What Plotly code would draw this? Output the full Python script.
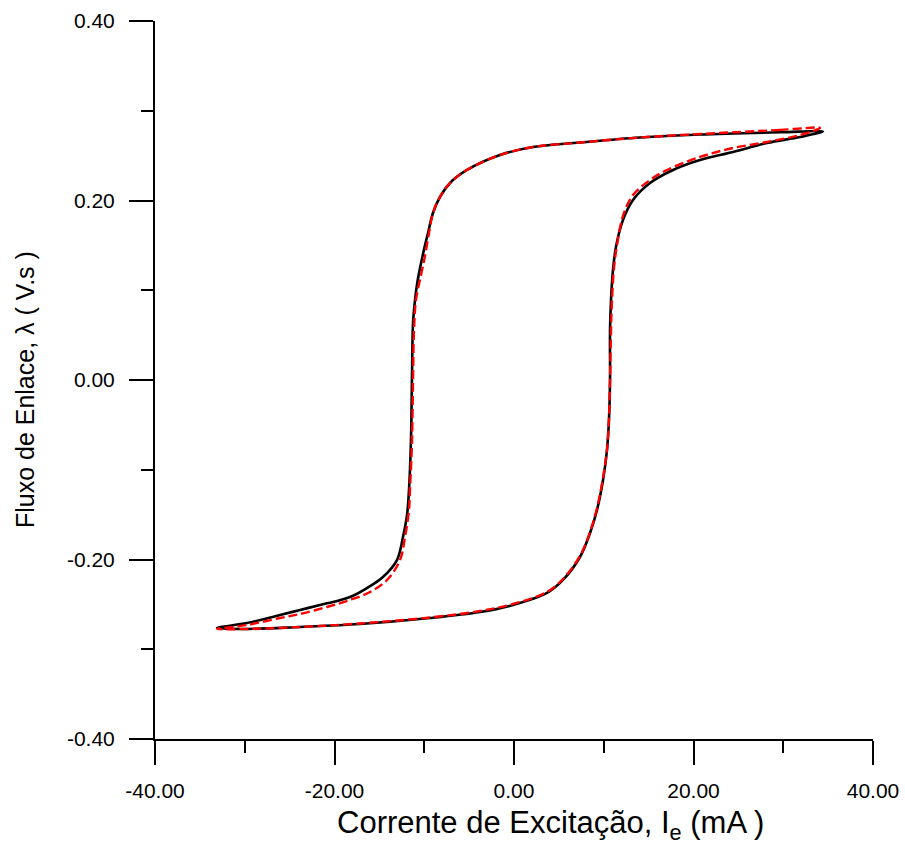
import plotly.graph_objects as go

# Measured hysteresis loop: excitation current (mA) vs flux linkage (V.s)
measured_i = [34.43, 29.64, 20.72, 14.04, 7.35, 2.12, -1.56, -5.24, -7.13, -8.25, -9.03,
              -9.58, -9.92, -10.36, -10.75, -11.03, -11.25, -11.36, -11.48, -11.70, -11.92,
              -12.37, -13.04, -14.60, -16.38, -18.27, -19.72, -21.62, -23.84, -26.07, -29.75,
              -33.09,
              -29.75, -23.84, -17.16, -9.36, -3.79, -0.11, 3.68, 5.46, 7.35, 8.47, 9.25, 9.92,
              10.36, 10.58, 10.70, 10.70, 10.81, 11.03, 11.36, 12.14, 13.26, 15.15, 17.72,
              20.72, 24.40, 28.19, 31.87, 34.43]
measured_flux = [0.2770, 0.2760, 0.2735, 0.2702, 0.2646, 0.2596, 0.2507, 0.2340, 0.2195,
                 0.2039, 0.1861, 0.1638, 0.1500, 0.1300, 0.1100, 0.0891, 0.0635, 0.0078,
                 -0.0669, -0.1226, -0.1504, -0.1749, -0.2006, -0.2195, -0.2318, -0.2418,
                 -0.2462, -0.2507, -0.2563, -0.2618, -0.2708, -0.2763,
                 -0.2774, -0.2752, -0.2719, -0.2652, -0.2585, -0.2507, -0.2373, -0.2228,
                 -0.1972, -0.1705, -0.1448, -0.1114, -0.0780, -0.0446, 0.0000, 0.0557,
                 0.0891, 0.1226, 0.1482, 0.1783, 0.2006, 0.2195, 0.2340, 0.2451, 0.2540,
                 0.2641, 0.2708, 0.2770]

# Simulated (model) hysteresis loop
model_i = [34.09, 29.64, 20.72, 14.04, 7.35, 2.12, -1.56, -5.24, -7.13, -8.25, -9.03,
           -9.47, -9.92, -10.36, -10.92, -11.14, -11.25, -11.36, -11.59, -11.70, -12.14,
           -12.70, -14.15, -16.04, -18.27, -20.84, -23.84, -26.07, -29.75, -33.09,
           -29.75, -23.84, -17.16, -9.36, -3.79, -0.11, 3.68, 5.46, 7.35, 8.47, 9.25, 9.92,
           10.36, 10.58, 10.70, 10.81, 10.92, 11.14, 11.48, 12.14, 13.26, 15.15, 17.05,
           20.72, 24.40, 28.19, 31.87, 34.09]
model_flux = [0.2808, 0.2786, 0.2741, 0.2702, 0.2646, 0.2596, 0.2507, 0.2340, 0.2195,
              0.2039, 0.1861, 0.1638, 0.1382, 0.1170, 0.0891, 0.0557, 0.0000, -0.0669,
              -0.1226, -0.1448, -0.1749, -0.2006, -0.2228, -0.2362, -0.2451, -0.2529,
              -0.2607, -0.2652, -0.2730, -0.2774,
              -0.2774, -0.2752, -0.2713, -0.2646, -0.2574, -0.2496, -0.2362, -0.2217,
              -0.1961, -0.1694, -0.1426, -0.1092, -0.0780, -0.0446, 0.0000, 0.0557,
              0.0891, 0.1248, 0.1504, 0.1827, 0.2061, 0.2228, 0.2340, 0.2485, 0.2585,
              0.2652, 0.2730, 0.2808]

x_tick_vals = [-40, -20, 0, 20, 40]
x_tick_text = ["-40.00", "-20.00", "0.00", "20.00", "40.00"]
y_tick_vals = [-0.4, -0.2, 0.0, 0.2, 0.4]
y_tick_text = ["-0.40", "-0.20", "0.00", "0.20", "0.40"]

x_title = "Corrente de Excitação, I<sub>e</sub> (mA )"
y_title = "Fluxo de Enlace, λ ( V.s )"

FONT = "Liberation Sans, Arial, Helvetica, sans-serif"

fig = go.Figure()
fig.add_trace(go.Scatter(
    x=measured_i, y=measured_flux, mode="lines",
    line=dict(color="black", width=2.6, shape="spline", smoothing=1.0),
    showlegend=False, hoverinfo="skip"))
fig.add_trace(go.Scatter(
    x=model_i, y=model_flux, mode="lines",
    line=dict(color="#ff0000", width=2.4, dash="9px,4px", shape="spline", smoothing=1.0),
    showlegend=False, hoverinfo="skip"))

axis_common = dict(
    showline=True, linecolor="black", linewidth=2,
    showgrid=False, zeroline=False, automargin=False,
    ticks="outside", ticklen=24, tickwidth=2, tickcolor="black",
    tickfont=dict(family=FONT, size=21, color="black"),
)

fig.update_xaxes(
    range=[-40, 40], tickvals=x_tick_vals, ticktext=x_tick_text,
    minor=dict(ticks="outside", ticklen=12, tickwidth=2, tickcolor="black", dtick=10,
               tick0=0, showgrid=False),
    ticklabelstandoff=8,
    **axis_common)
fig.update_yaxes(
    range=[-0.4, 0.4], tickvals=y_tick_vals, ticktext=y_tick_text,
    minor=dict(ticks="outside", ticklen=12, tickwidth=2, tickcolor="black", dtick=0.1,
               tick0=0, showgrid=False),
    ticklabelstandoff=10,
    **axis_common)

# Axis titles placed as annotations so their position can be set freely
fig.add_annotation(
    text=x_title, xref="paper", yref="paper", x=0.5515, y=-0.120,
    xanchor="center", yanchor="middle", showarrow=False,
    font=dict(family=FONT, size=31, color="black"))
fig.add_annotation(
    text=y_title, xref="paper", yref="paper", x=-0.181, y=0.486,
    xanchor="center", yanchor="middle", showarrow=False, textangle=-90,
    font=dict(family=FONT, size=25, color="black"))

fig.update_layout(
    width=905, height=863,
    margin=dict(l=155, r=32, t=21, b=124, pad=0),
    paper_bgcolor="white", plot_bgcolor="white",
)

fig.write_html("out.html")
